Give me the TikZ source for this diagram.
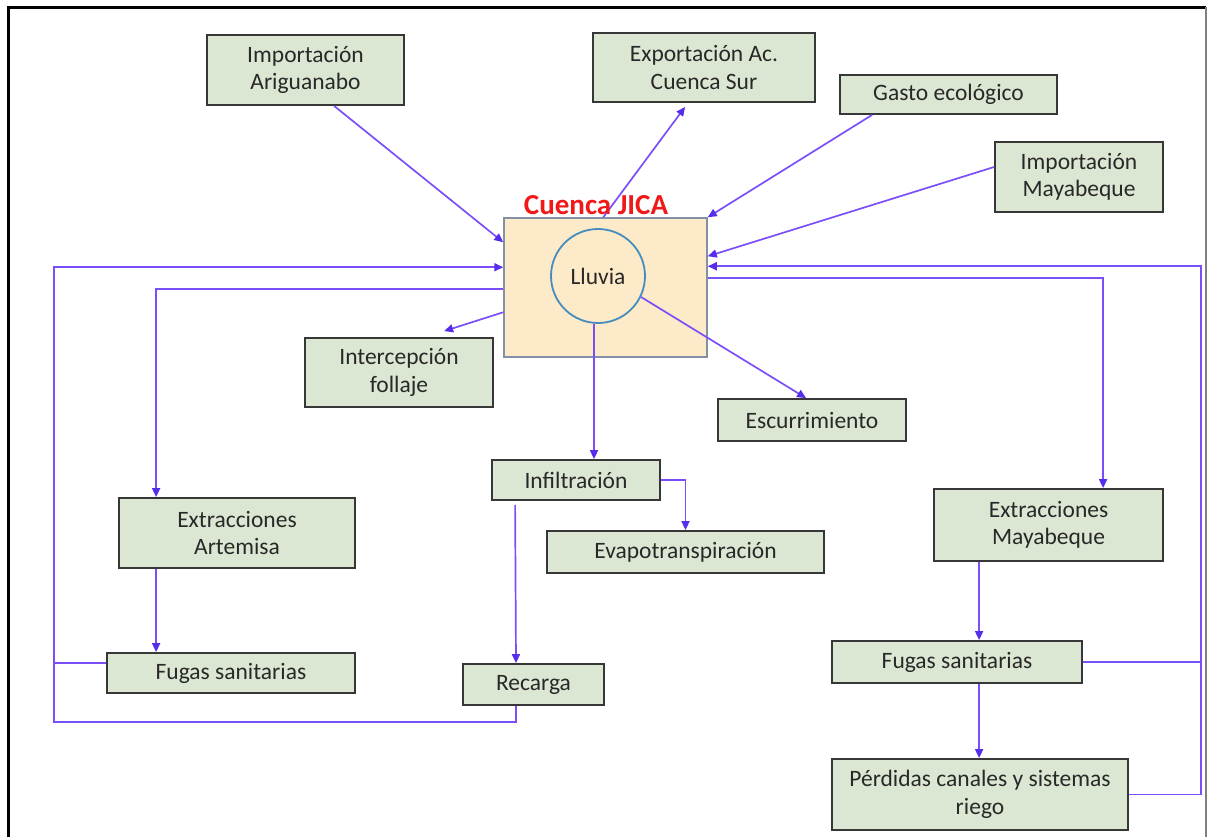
\documentclass[tikz,border=0pt]{standalone}
\usepackage{fontspec}
\setmainfont{Carlito}
\usetikzlibrary{arrows.meta}
\definecolor{flowcol}{RGB}{122,78,248}
\definecolor{tipcol}{RGB}{85,45,235}
\definecolor{boxfill}{RGB}{220,231,211}
\definecolor{boxline}{RGB}{55,55,55}
\definecolor{txtcol}{RGB}{40,40,40}
\definecolor{basinfill}{RGB}{252,234,200}
\definecolor{basinline}{RGB}{130,145,165}
\definecolor{rainline}{RGB}{70,140,190}
\definecolor{titlered}{RGB}{240,25,25}
\tikzset{
  x=1pt, y=-1pt,
  procbox/.style={draw=boxline, line width=1.8pt, fill=boxfill, inner sep=0pt,
    text=txtcol, align=center, font=\fontsize{23.5}{27.5}\selectfont},
  link/.style={draw=flowcol, line width=1.7pt},
  flow/.style={link, -{Triangle[length=9pt,width=8pt,fill=tipcol,color=tipcol]}},
}
\begin{document}
\begin{tikzpicture}
\useasboundingbox (0,0) rectangle (1209,836);
% frame
\draw[line width=3pt, black] (8,840) -- (8,7) -- (1206,7);
\draw[line width=1.5pt, gray] (1206,7) -- (1206,840);

% basin
\node[draw=basinline, line width=1.5pt, fill=basinfill, minimum width=203pt, minimum height=139pt, inner sep=0pt] (cuenca) at (605.5,287.5) {};
\node[circle, draw=rainline, line width=1.8pt, fill=basinfill, minimum size=94pt, inner sep=0pt, text=txtcol, font=\fontsize{23.5}{27.5}\selectfont] (lluvia) at (598,276) {Lluvia};

% boxes
\node[procbox, minimum width=197pt, minimum height=70pt] (ariguanabo) at (305.5,70) {Importación\\Ariguanabo};
\node[procbox, minimum width=222pt, minimum height=69pt] (exportacion) at (704,67.5) {Exportación Ac.\\Cuenca Sur};
\node[procbox, minimum width=217pt, minimum height=39pt] (gasto) at (948.5,94.5) {Gasto ecológico};
\node[procbox, minimum width=168pt, minimum height=70pt] (impmaya) at (1079,177) {Importación\\Mayabeque};
\node[procbox, minimum width=188pt, minimum height=69pt] (intercep) at (399,372.5) {Intercepción\\follaje};
\node[procbox, minimum width=188pt, minimum height=42pt] (escurr) at (812,420) {Escurrimiento};
\node[procbox, minimum width=168pt, minimum height=40pt] (infil) at (576,480) {Infiltración};
\node[procbox, minimum width=277pt, minimum height=42pt] (evapo) at (685.5,552) {Evapotranspiración};
\node[procbox, minimum width=236pt, minimum height=70pt] (extart) at (237,533) {Extracciones\\Artemisa};
\node[procbox, minimum width=229pt, minimum height=72pt] (extmaya) at (1048.5,525) {Extracciones\\Mayabeque};
\node[procbox, minimum width=248pt, minimum height=40pt] (fugasL) at (231,673) {Fugas sanitarias};
\node[procbox, minimum width=141pt, minimum height=41pt] (recarga) at (533.5,684.5) {Recarga};
\node[procbox, minimum width=250pt, minimum height=42pt] (fugasR) at (957,662) {Fugas sanitarias};
\node[procbox, minimum width=296pt, minimum height=71pt] (perdidas) at (980,794.5) {Pérdidas canales y sistemas\\riego};

% connectors, top
\draw[flow] ([xshift=128pt]ariguanabo.south west) -- ([yshift=-25pt]cuenca.north west);
\draw[flow] ([xshift=100pt]cuenca.north west) -- ([xshift=93pt,yshift=-4pt]exportacion.south west);
\draw[flow] ([xshift=33pt]gasto.south west) -- (cuenca.north east);
\draw[flow] ([yshift=10pt]impmaya.west) -- ([yshift=-39pt]cuenca.north east);

% left loop
\coordinate (LL) at (54,722);
\draw[flow] ([xshift=-17.5pt]recarga.south) |- (LL) |- ([yshift=-50pt]cuenca.north west);
\draw[link] ([yshift=10pt]fugasL.west) -- ++(-53,0);
\draw[flow] ([yshift=-72pt]cuenca.north west) -| ([xshift=38pt]extart.north west);
\draw[flow] ([xshift=38pt]extart.south west) -- ([xshift=50pt]fugasL.north west);

% centre
\draw[flow] ([yshift=-95pt]cuenca.north west) -- ([xshift=140pt,yshift=6pt]intercep.north west);
\draw[flow] (lluvia.-26) -- ([xshift=89pt]escurr.north west);
\draw[flow] ([xshift=-4pt]lluvia.south) -- ([xshift=-4pt]lluvia.south |- infil.north);
\draw[flow] (infil.east) -| (evapo.north);
\draw[flow] ([xshift=24pt,yshift=-4pt]infil.south west) -- ([xshift=-17.5pt]recarga.north);

% right loop
\draw[flow] (perdidas.east) -- ++(72,0) |- ([yshift=-49pt]cuenca.north east);
\draw[link] (fugasR.east) -- ++(118,0);
\draw[flow] ([yshift=-61pt]cuenca.north east) -| ([xshift=170pt]extmaya.north west);
\draw[flow] ([xshift=46pt]extmaya.south west) -- ([xshift=148pt]fugasR.north west);
\draw[flow] ([xshift=148pt]fugasR.south west) -- ([xshift=148pt]perdidas.north west);

% title
\node[text=titlered, font=\bfseries\fontsize{29}{32}\selectfont, inner sep=0pt] (titulo) at (596,205) {Cuenca JICA};
\end{tikzpicture}
\end{document}
